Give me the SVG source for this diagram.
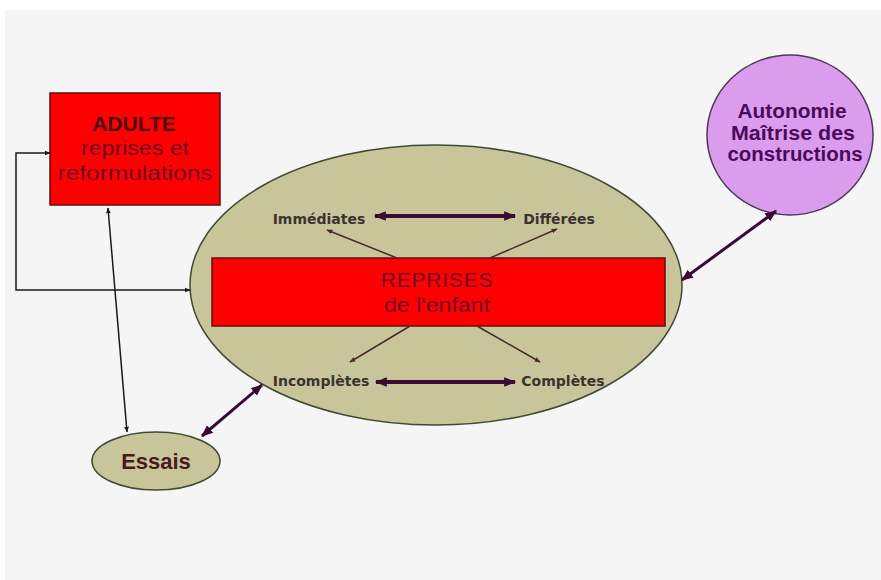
<svg xmlns="http://www.w3.org/2000/svg" width="881" height="580" viewBox="0 0 881 580">
<style>
.arial{font-family:"Liberation Sans",Arial,sans-serif}
.lbl{font-family:"DejaVu Sans",Verdana,sans-serif;font-weight:bold;font-size:14px;fill:#3b3331}
.thin{stroke:#1a1a1a;stroke-width:1.5;fill:none}
.brown{stroke:#4a2a2a;stroke-width:1.5;fill:none}
.thick{stroke:#3a0a35;stroke-width:4;fill:none}
.med{stroke:#3a0a35;stroke-width:3;fill:none}
.dred{fill:#6e0a28}
</style>
<defs>
<marker id="a" viewBox="0 0 10 10" refX="9" refY="5" markerWidth="4" markerHeight="4" orient="auto-start-reverse"><path d="M0,1 L10,5 L0,9 z" fill="#1a1a1a"/></marker>
<marker id="b" viewBox="0 0 10 10" refX="9" refY="5" markerWidth="4" markerHeight="4" orient="auto-start-reverse"><path d="M0,1 L10,5 L0,9 z" fill="#4a2a2a"/></marker>
<marker id="c" viewBox="0 0 10 10" refX="9" refY="5" markerWidth="4.5" markerHeight="3" orient="auto-start-reverse"><path d="M0,1 L10,5 L0,9 z" fill="#3a0a35"/></marker>
<marker id="d" viewBox="0 0 10 10" refX="9" refY="5" markerWidth="4" markerHeight="4" orient="auto-start-reverse"><path d="M0,1 L10,5 L0,9 z" fill="#3a0a35"/></marker>
</defs>
<rect x="0" y="0" width="881" height="580" fill="#ffffff"/>
<rect x="5" y="10" width="876" height="570" fill="#f5f5f5"/>

<g id="main">
<ellipse cx="436" cy="285" rx="246" ry="140" fill="#c9c59b" stroke="#3e4a33" stroke-width="1.5"/>
</g>
<g id="reprises">
<rect x="212" y="258" width="453" height="68" fill="#ff0000" stroke="#5a1010" stroke-width="1.5"/>
<text x="437" y="287" text-anchor="middle" class="arial dred" font-size="21" letter-spacing="0.8">REPRISES</text>
<text x="437" y="312" text-anchor="middle" class="arial dred" font-size="21" textLength="106" lengthAdjust="spacingAndGlyphs">de l'enfant</text>
</g>
<g id="adulte">
<rect x="50" y="93" width="170" height="112" fill="#ff0000" stroke="#5a1010" stroke-width="1.5"/>
<text x="134" y="131" text-anchor="middle" class="arial" font-size="21" font-weight="bold" fill="#4a0a15">ADULTE</text>
<text x="135" y="155" text-anchor="middle" class="arial dred" font-size="20" textLength="108" lengthAdjust="spacingAndGlyphs">reprises et</text>
<text x="135" y="180" text-anchor="middle" class="arial dred" font-size="20" textLength="155" lengthAdjust="spacingAndGlyphs">reformulations</text>
</g>
<g id="autonomie">
<ellipse cx="790" cy="135" rx="83" ry="80" fill="#dc9cee" stroke="#4a3a55" stroke-width="1.5"/>
<text x="792" y="118" text-anchor="middle" class="arial" font-size="19.5" font-weight="bold" fill="#4a0a5a" textLength="109" lengthAdjust="spacingAndGlyphs">Autonomie</text>
<text x="793" y="140" text-anchor="middle" class="arial" font-size="19.5" font-weight="bold" fill="#4a0a5a" textLength="124" lengthAdjust="spacingAndGlyphs">Maîtrise des</text>
<text x="795" y="161" text-anchor="middle" class="arial" font-size="19.5" font-weight="bold" fill="#4a0a5a" textLength="135" lengthAdjust="spacingAndGlyphs">constructions</text>
</g>
<g id="essais">
<ellipse cx="156" cy="461" rx="64" ry="29" fill="#c9c59b" stroke="#3e4a33" stroke-width="1.5"/>
<text x="156" y="469" text-anchor="middle" class="arial" font-size="22" font-weight="bold" fill="#4a1a1a">Essais</text>
</g>
<g id="immediates"><text x="319" y="224" text-anchor="middle" class="lbl">Immédiates</text></g>
<g id="differees"><text x="559" y="224" text-anchor="middle" class="lbl">Différées</text></g>
<g id="incompletes"><text x="321" y="386" text-anchor="middle" class="lbl">Incomplètes</text></g>
<g id="completes"><text x="563" y="386" text-anchor="middle" class="lbl">Complètes</text></g>

<g id="connectors">
<polyline class="thin" points="50,153 16,153 16,290 190,290" marker-start="url(#a)" marker-end="url(#a)"/>
<line class="thin" x1="108" y1="208" x2="127" y2="432" marker-start="url(#a)" marker-end="url(#a)"/>
<line class="thick" x1="375" y1="216" x2="515" y2="216" marker-start="url(#c)" marker-end="url(#c)"/>
<line class="thick" x1="376" y1="382" x2="515" y2="382" marker-start="url(#c)" marker-end="url(#c)"/>
<line class="brown" x1="397" y1="258" x2="327" y2="230" marker-end="url(#b)"/>
<line class="brown" x1="490" y1="258" x2="557" y2="229" marker-end="url(#b)"/>
<line class="brown" x1="410" y1="326" x2="350" y2="362" marker-end="url(#b)"/>
<line class="brown" x1="477" y1="326" x2="540" y2="362" marker-end="url(#b)"/>
<line class="med" x1="682" y1="280" x2="776" y2="211" marker-start="url(#d)" marker-end="url(#d)"/>
<line class="med" x1="202" y1="436" x2="262" y2="385" marker-start="url(#d)" marker-end="url(#d)"/>
</g>
</svg>
